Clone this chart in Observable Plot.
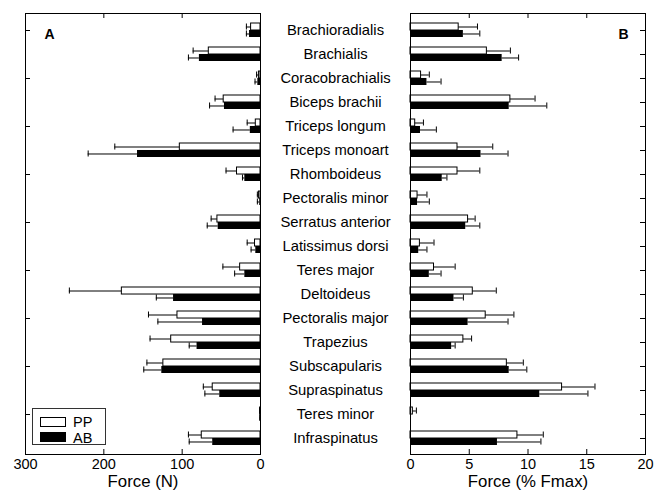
<!DOCTYPE html>
<html>
<head>
<meta charset="utf-8">
<script src="https://cdn.jsdelivr.net/npm/d3@7"></script>
<script src="https://cdn.jsdelivr.net/npm/@observablehq/plot@0.6"></script>
<style>
  html, body { margin: 0; padding: 0; background: white; }
  #chart { position: relative; width: 663px; height: 494px; font-family: "Liberation Sans", Arial, sans-serif; }
  #left { position: absolute; left: 0; top: 0; }
  #right { position: absolute; left: 400px; top: 0; }
  #legend { position: absolute; left: 32px; top: 408px; width: 72px; height: 35px; border: 1px solid #333; background: white; }
  .sw { position: absolute; left: 7px; width: 24px; height: 8px; border: 1px solid black; }
  .lt { position: absolute; left: 40px; font-size: 14.5px; line-height: 14px; color: black; }
</style>
</head>
<body>
<div id="chart">
  <div id="left"></div>
  <div id="right"></div>
  <div id="legend">
    <div class="sw" style="top:8px;background:white;"></div>
    <div class="lt" style="top:6px;">PP</div>
    <div class="sw" style="top:23px;background:black;"></div>
    <div class="lt" style="top:22px;">AB</div>
  </div>
</div>
<script>
// ---- data ----
const muscles = ["Brachioradialis","Brachialis","Coracobrachialis","Biceps brachii","Triceps longum","Triceps monoart","Rhomboideus","Pectoralis minor","Serratus anterior","Latissimus dorsi","Teres major","Deltoideus","Pectoralis major","Trapezius","Subscapularis","Supraspinatus","Teres minor","Infraspinatus"];

// Panel A: Force (N)
const forcePP   = [12, 66, 2, 47, 6, 103, 30, 2, 55, 7, 26, 177, 106, 114, 124, 61, 0.5, 75];
const forcePPsd = [6, 20, 3, 11, 11, 83, 14, 2, 8, 10, 22, 67, 37, 27, 21, 12, 0.5, 17];
const forceAB   = [14, 78, 3.4, 46, 13, 157, 20, 1, 54, 6, 20, 111, 74, 81, 126, 52, 0.5, 61];
const forceABsd = [4, 14, 3.6, 19, 22, 63, 3, 3, 14, 6, 13, 22, 57, 10, 23, 19, 0.5, 30];

// Panel B: Force (% Fmax)
const pctPP   = [4.1, 6.5, 0.9, 8.5, 0.4, 4.0, 4.0, 0.6, 4.9, 0.8, 2.0, 5.3, 6.4, 4.5, 8.2, 12.9, 0.2, 9.1];
const pctPPsd = [1.6, 2.0, 0.7, 2.1, 0.7, 3.0, 1.9, 0.8, 0.6, 1.2, 1.8, 2.0, 2.4, 0.7, 1.4, 2.8, 0.3, 2.2];
const pctAB   = [4.5, 7.8, 1.4, 8.4, 0.85, 6.0, 2.7, 0.6, 4.7, 0.7, 1.6, 3.7, 4.9, 3.5, 8.4, 11.0, 0, 7.4];
const pctABsd = [1.4, 1.4, 1.2, 3.2, 1.35, 2.3, 0.4, 1.0, 1.2, 0.7, 1.0, 0.8, 3.4, 0.3, 1.5, 4.1, 0, 3.7];

const ticksA = [300, 200, 100, 0];
const innerTicksA = [100, 200];
const ticksB = [0, 5, 10, 15, 20];
const innerTicksB = [5, 10, 15];
const yTickMusclesA = muscles.filter((d, i) => i % 2 === 0);

// ---- layout ----
const H = 494, MT = 13, MB = 40;
const frameH = H - MT - MB;
const padIn = 0.43;
const bw = frameH / muscles.length * (1 - padIn);
const tickLen = 5;
const font = "'Liberation Sans', Arial, sans-serif";

function rows(pp, ppsd, ab, absd) {
  return muscles.map((m, i) => ({muscle: m, pp: pp[i], ppE: pp[i] + ppsd[i], ab: ab[i], abE: ab[i] + absd[i]}));
}

function panelMarks(data, frameW, innerTicks, yTickSet, yTickSide) {
  return [
    Plot.barX(data, {x: "pp", y: "muscle", fill: "white", stroke: "black", strokeWidth: 1, insetBottom: bw / 2}),
    Plot.barX(data, {x: "ab", y: "muscle", fill: "black", insetTop: bw / 2}),
    Plot.ruleY(data, {y: "muscle", x1: "pp", x2: "ppE", dy: -bw / 4, stroke: "black", strokeWidth: 1}),
    Plot.ruleY(data, {y: "muscle", x1: "ab", x2: "abE", dy: bw / 4, stroke: "black", strokeWidth: 1}),
    Plot.tickX(data, {x: "ppE", y: "muscle", insetTop: 0.5, insetBottom: bw / 2 + 0.5, stroke: "black"}),
    Plot.tickX(data, {x: "abE", y: "muscle", insetTop: bw / 2 + 0.5, insetBottom: 0.5, stroke: "black"}),
    Plot.frame({stroke: "black", strokeWidth: 1}),
    Plot.tickX(innerTicks, {x: d => d, insetBottom: frameH - tickLen, stroke: "black"}),
    Plot.tickX(innerTicks, {x: d => d, insetTop: frameH - tickLen, stroke: "black"}),
    yTickSide === "left"
      ? Plot.tickY(yTickSet, {y: d => d, insetRight: frameW - tickLen, stroke: "black"})
      : Plot.tickY(yTickSet, {y: d => d, insetLeft: frameW - tickLen, stroke: "black"})
  ];
}

// ---- left panel ----
const dataA = rows(forcePP, forcePPsd, forceAB, forceABsd);
const leftW = 410, leftML = 25, leftMR = 150;
const left = Plot.plot({
  width: leftW, height: H, marginLeft: leftML, marginRight: leftMR, marginTop: MT, marginBottom: MB,
  x: {domain: [0, 300], reverse: true},
  y: {domain: muscles, paddingInner: padIn, paddingOuter: padIn / 2, axis: null},
  style: {fontFamily: font, fontSize: "14px", color: "black", background: "transparent", overflow: "visible"},
  marks: [
    ...panelMarks(dataA, leftW - leftML - leftMR, innerTicksA, yTickMusclesA, "left"),
    Plot.axisX({ticks: ticksA, tickSize: 0, tickPadding: 4, label: null, fontSize: 14.5, tickFormat: d => String(d)}),
    Plot.text(["Force (N)"], {frameAnchor: "bottom", dy: 32, fontSize: 16.8, fill: "black"}),
    Plot.text(["A"], {frameAnchor: "top-left", dx: 19, dy: 16, fontSize: 14, fontWeight: "bold", fill: "black"}),
    Plot.text(muscles, {y: d => d, frameAnchor: "right", textAnchor: "middle", dx: 75, fontSize: 14.8, fill: "black"})
  ]
});
document.getElementById("left").appendChild(left);

// ---- right panel ----
const dataB = rows(pctPP, pctPPsd, pctAB, pctABsd);
const rightW = 263, rightML = 10, rightMR = 18;
const right = Plot.plot({
  width: rightW, height: H, marginLeft: rightML, marginRight: rightMR, marginTop: MT, marginBottom: MB,
  x: {domain: [0, 20]},
  y: {domain: muscles, paddingInner: padIn, paddingOuter: padIn / 2, axis: null},
  style: {fontFamily: font, fontSize: "14px", color: "black", background: "transparent", overflow: "visible"},
  marks: [
    ...panelMarks(dataB, rightW - rightML - rightMR, innerTicksB, muscles, "right"),
    Plot.axisX({ticks: ticksB, tickSize: 0, tickPadding: 4, label: null, fontSize: 14.5}),
    Plot.text(["Force (% Fmax)"], {frameAnchor: "bottom", dy: 32, fontSize: 16.8, fill: "black"}),
    Plot.text(["B"], {frameAnchor: "top-right", dx: -17, dy: 16, fontSize: 14, fontWeight: "bold", fill: "black"})
  ]
});
document.getElementById("right").appendChild(right);
</script>
</body>
</html>
